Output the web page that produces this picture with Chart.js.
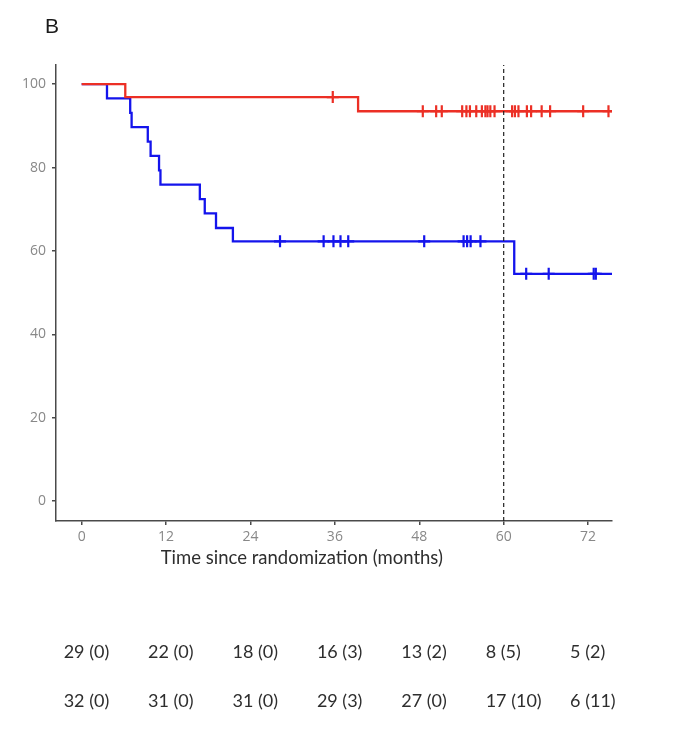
<!DOCTYPE html>
<html>
<head>
<meta charset="utf-8">
<script src="https://cdn.jsdelivr.net/npm/chart.js@4"></script>
<style>
  html, body { margin: 0; padding: 0; background: #fff; }
</style>
</head>
<body>
<canvas id="km" width="686" height="750"></canvas>
<script>
const xTicks = [0, 12, 24, 36, 48, 60, 72];
const yTicks = [0, 20, 40, 60, 80, 100];

// red arm (steps + censor marks)
const redTimes = [0, 6.2, 39.3, 75.5];
const redSurv = [100, 96.9, 93.5, 93.5];
const redCensorTimes = [35.7, 48.5, 50.4, 51.2, 54.1, 54.7, 55.2, 56.1, 56.9, 57.4, 57.7, 58.1, 58.7,
  61.2, 61.6, 62.1, 63.3, 63.9, 65.4, 66.6, 71.3, 74.9];
const redCensorSurv = [96.9, 93.5, 93.5, 93.5, 93.5, 93.5, 93.5, 93.5, 93.5, 93.5, 93.5, 93.5, 93.5,
  93.5, 93.5, 93.5, 93.5, 93.5, 93.5, 93.5, 93.5, 93.5];

// blue arm
const blueTimes = [0, 3.6, 6.9, 7.1, 9.4, 9.8, 11.0, 11.2, 16.8, 17.5, 19.1, 21.5, 61.5, 75.5];
const blueSurv = [100, 96.6, 93.1, 89.7, 86.2, 82.8, 79.3, 75.9, 72.4, 69.0, 65.5, 62.3, 54.5, 54.5];
const blueCensorTimes = [28.2, 34.4, 35.8, 36.8, 37.9, 48.7, 54.3, 54.8, 55.3, 56.7, 63.2, 66.4, 72.8, 73.1];
const blueCensorSurv = [62.3, 62.3, 62.3, 62.3, 62.3, 62.3, 62.3, 62.3, 62.3, 62.3, 54.5, 54.5, 54.5, 54.5];

// numbers at risk
const riskTimes = [0, 12, 24, 36, 48, 60, 72];
const riskRow1 = ["29 (0)", "22 (0)", "18 (0)", "16 (3)", "13 (2)", "8 (5)", "5 (2)"];
const riskRow2 = ["32 (0)", "31 (0)", "31 (0)", "29 (3)", "27 (0)", "17 (10)", "6 (11)"];

const cutoff = 60;
const xTitle = "Time since randomization (months)";
const panel = "B";

const red = "#ec2f25";
const blue = "#1414ec";
const axisCol = "#4a4a4a";
const tickCol = "#888888";

const toPts = (xs, ys) => xs.map((t, i) => ({ x: t, y: ys[i] }));

const textPlugin = {
  id: "kmText",
  afterDraw(chart) {
    const { ctx, scales: { x } } = chart;
    ctx.save();
    ctx.fillStyle = "#1a1a1a";
    ctx.font = "21px 'Liberation Sans', sans-serif";
    ctx.textAlign = "left";
    ctx.textBaseline = "alphabetic";
    ctx.fillText(panel, 45, 33);

    ctx.fillStyle = "#2e2e2e";
    ctx.font = "18.5px Lato, sans-serif";
    ctx.textAlign = "center";
    ctx.textBaseline = "middle";
    ctx.fillText(xTitle, x.getPixelForValue(31.3), 558);

    ctx.font = "18px Lato, sans-serif";
    ctx.textAlign = "left";
    riskTimes.forEach((t, i) => {
      const px = x.getPixelForValue(t) - 18;
      ctx.fillText(riskRow1[i], px, 652);
      ctx.fillText(riskRow2[i], px, 701);
    });
    ctx.restore();
  }
};

const ctx = document.getElementById("km").getContext("2d");
const chart = new Chart(ctx, {
  type: "line",
  data: {
    datasets: [
      {
        data: [{ x: cutoff, y: -4.8 }, { x: cutoff, y: 104.6 }],
        borderColor: "#222", borderWidth: 1.2, borderDash: [4, 3], pointRadius: 0
      },
      {
        data: toPts(redTimes, redSurv), stepped: true,
        borderColor: red, borderWidth: 2.3, pointRadius: 0
      },
      {
        data: toPts(redCensorTimes, redCensorSurv), showLine: false,
        pointStyle: "cross", pointRadius: 6, borderColor: red, borderWidth: 2.2
      },
      {
        data: toPts(blueTimes, blueSurv), stepped: true,
        borderColor: blue, borderWidth: 2.3, pointRadius: 0
      },
      {
        data: toPts(blueCensorTimes, blueCensorSurv), showLine: false,
        pointStyle: "cross", pointRadius: 6, borderColor: blue, borderWidth: 2.2
      }
    ]
  },
  options: {
    responsive: false,
    animation: false,
    layout: { padding: { left: 0, top: 65, right: 74, bottom: 0 } },
    plugins: { legend: { display: false }, tooltip: { enabled: false } },
    scales: {
      x: {
        type: "linear", min: -3.65, max: 75.4,
        afterBuildTicks: s => { s.ticks = xTicks.map(v => ({ value: v })); },
        afterFit: s => { s.height = 229; },
        grid: { drawOnChartArea: false, tickLength: 4, color: axisCol, lineWidth: 1.5 },
        border: { color: axisCol, width: 1.5 },
        ticks: { color: tickCol, font: { family: "Open Sans", size: 14 }, padding: 4, maxRotation: 0, autoSkip: false }
      },
      y: {
        type: "linear", min: -4.8, max: 104.6,
        afterBuildTicks: s => { s.ticks = yTicks.map(v => ({ value: v })); },
        afterFit: s => { s.width = 56; },
        grid: { drawOnChartArea: false, tickLength: 4, color: axisCol, lineWidth: 1.5 },
        border: { color: axisCol, width: 1.5 },
        ticks: { color: tickCol, font: { family: "Open Sans", size: 14 }, padding: 6 }
      }
    }
  },
  plugins: [textPlugin]
});
</script>
</body>
</html>
